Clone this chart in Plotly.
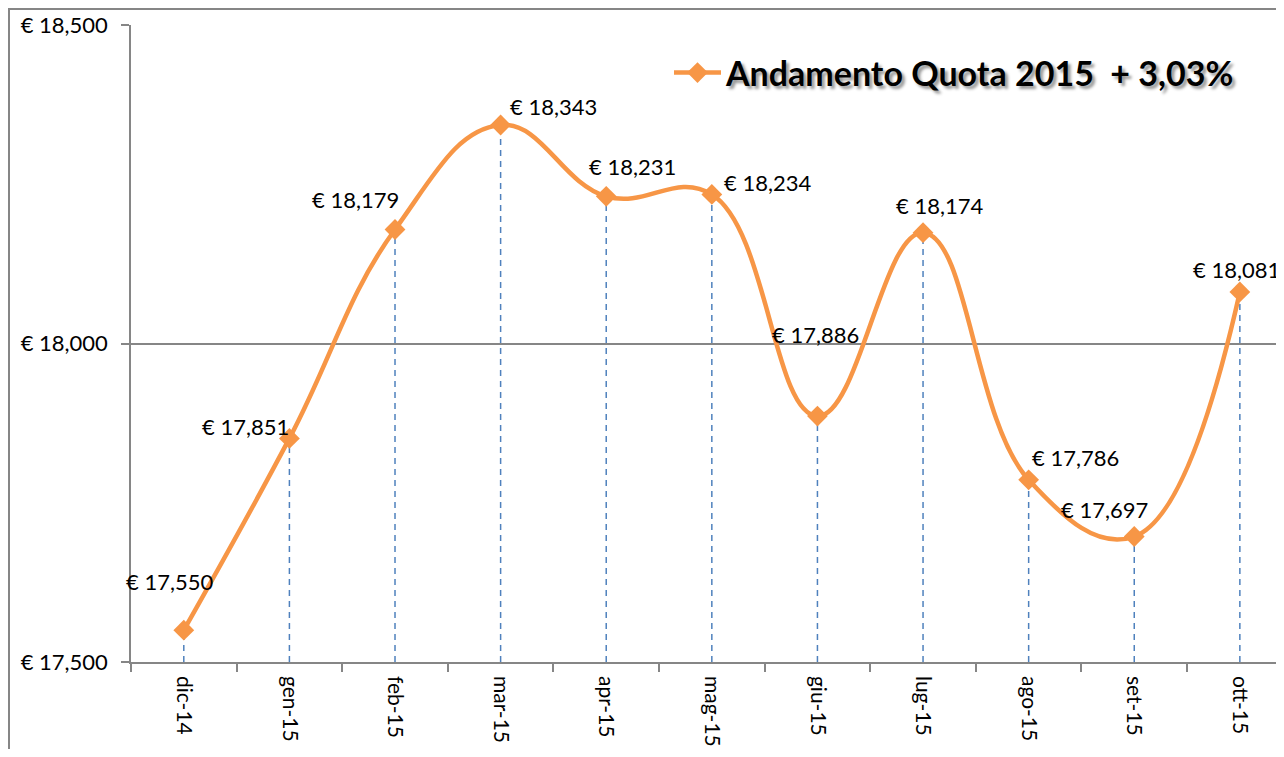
import plotly.graph_objects as go

months = ["dic-14", "gen-15", "feb-15", "mar-15", "apr-15", "mag-15",
          "giu-15", "lug-15", "ago-15", "set-15", "ott-15"]
quota = [17550, 17851, 18179, 18343, 18231, 18234, 17886, 18174, 17786, 17697, 18081]
series_name = "Andamento Quota 2015  + 3,03%"
y_ticks = [17500, 18000, 18500]
y_tick_labels = [f"€ {v:,}" for v in y_ticks]

# label offsets (pixels) relative to each point
label_dx = [-14, -44, -40, 53, 26, 56, -2, 16, 47, -30, -3]
label_dy = [49, 12, 30, 19, 30, 12, 82, 27, 22, 27, 22]

ORANGE = "#F79646"
GRAY = "#868686"
BLUE = "#4F81BD"
FONT = "Lato"

# page has an 8px body margin; figure sized to fill the window
W, H = 1276, 741
ML, MT, MB, MR = 123, 17, 87, 0
PW, PH = W - ML - MR, H - MT - MB

fig = go.Figure()
fig.add_trace(go.Scatter(
    x=months, y=quota, mode="lines+markers", name=series_name,
    line=dict(color=ORANGE, width=4.5, shape="spline", smoothing=1.2),
    marker=dict(symbol="diamond", size=16, color=ORANGE),
    showlegend=True,
))

shapes = []
for m, v in zip(months, quota):
    shapes.append(dict(type="line", xref="x", yref="y", x0=m, x1=m, y0=y_ticks[0], y1=v,
                       line=dict(color=BLUE, width=1.5, dash="6px,5px"), layer="below"))
# outer chart border
shapes.append(dict(type="rect", xref="paper", yref="paper",
                   x0=(1 - ML) / PW, x1=1.2, y0=-0.4, y1=(PH + MT - 1) / PH,
                   line=dict(color=GRAY, width=2), layer="below"))

annotations = []
for m, v, dx, dy in zip(months, quota, label_dx, label_dy):
    annotations.append(dict(x=m, y=v, xref="x", yref="y", text=f"€ {v:,}",
                            showarrow=False, xshift=dx, yshift=dy,
                            font=dict(family=FONT, size=22, color="black")))

fig.update_layout(
    width=W, height=H, autosize=False,
    margin=dict(l=ML, r=MR, t=MT, b=MB, pad=0, autoexpand=False),
    paper_bgcolor="white", plot_bgcolor="white",
    font=dict(family=FONT, size=22, color="black"),
    shapes=shapes, annotations=annotations,
    legend=dict(x=(1240 - 131) / PW, y=(662 - 73) / PH, xanchor="right", yanchor="middle",
                bgcolor="rgba(0,0,0,0)", itemwidth=47,
                font=dict(family=FONT, size=34, color="black", weight="bold",
                          shadow="3px 3px 3px #999")),
    showlegend=True,
)
fig.update_xaxes(
    type="category", range=[-0.5, 10.418], automargin=False,
    showline=True, linecolor=GRAY, linewidth=1.5,
    ticks="outside", tickson="boundaries", ticklen=8, tickcolor=GRAY, tickwidth=1.5,
    tickangle=90, showgrid=False, ticklabelstandoff=8,
    tickfont=dict(family=FONT, size=21, color="black"),
)
fig.update_yaxes(
    range=[17500, 18500], tickvals=y_ticks, ticktext=y_tick_labels, automargin=False,
    showline=True, linecolor=GRAY, linewidth=1.5,
    ticks="outside", ticklen=8, tickcolor=GRAY, tickwidth=1.5,
    showgrid=True, gridcolor=GRAY, gridwidth=1.5, zeroline=False,
    ticklabelstandoff=9,
    tickfont=dict(family=FONT, size=22, color="black"),
)

fig.write_html("out.html")
